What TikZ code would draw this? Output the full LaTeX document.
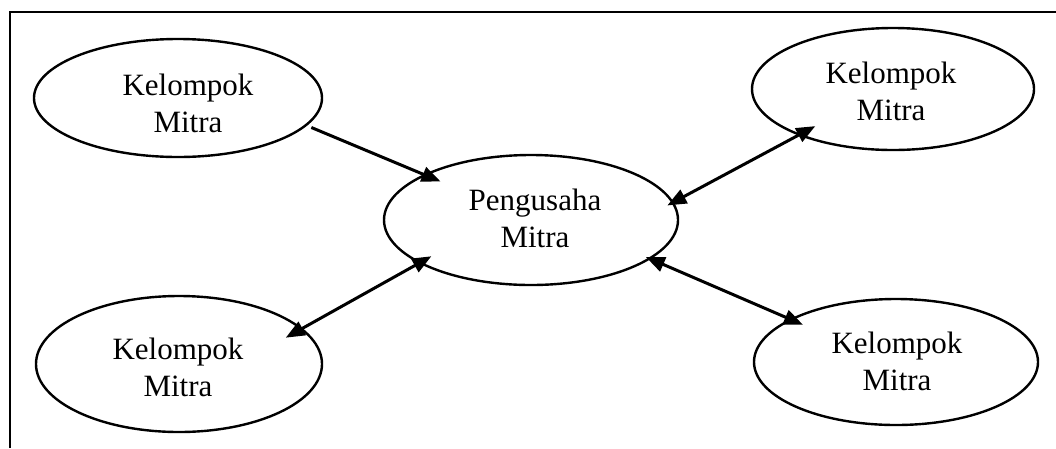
\documentclass[tikz,border=0pt]{standalone}
\usepackage{fontspec}
\setmainfont{Liberation Serif}
\usetikzlibrary{shapes.geometric,arrows.meta}
\begin{document}
\begin{tikzpicture}[x=1pt,y=-1pt,
  party/.style={ellipse,draw,line width=2.4pt,inner sep=0pt,outer sep=0pt},
  caption/.style={align=center,font=\fontsize{31}{37}\selectfont,inner sep=0pt,anchor=base},
  link/.style={line width=3pt,{Triangle[length=19pt,width=15pt]}-{Triangle[length=19pt,width=15pt]}},
  oneway/.style={line width=3pt,-{Triangle[length=19pt,width=15pt]}}]
\useasboundingbox (0,0) rectangle (1056,448);
\fill[white] (0,0) rectangle (1056,448);
% open frame: left and top edges
\draw[line width=2.4pt] (10,448) -- (10,12) -- (1056,12);

% the five parties
\node[party,minimum width=288pt,minimum height=118pt] (e1) at (178,98) {};
\node[party,minimum width=282pt,minimum height=122pt] (e2) at (893,89) {};
\node[party,minimum width=294pt,minimum height=130pt] (c)  at (531,220) {};
\node[party,minimum width=286pt,minimum height=136pt] (e3) at (179,364) {};
\node[party,minimum width=284pt,minimum height=126pt] (e4) at (896,362) {};

% labels (anchored on the baseline of the last line)
\node[caption] (t1) at (188,132) {Kelompok\\Mitra};
\node[caption] (t2) at (891,120) {Kelompok\\Mitra};
\node[caption] (tc) at (535,247) {Pengusaha\\Mitra};
\node[caption] (t3) at (178,396) {Kelompok\\Mitra};
\node[caption] (t4) at (897,390) {Kelompok\\Mitra};

% relations
\draw[oneway,shorten <=6pt,shorten >=-17pt] (e1.-12.8) -- (c.157.9);
\draw[link,shorten <=-6pt,shorten >=-18pt] (c.7.8) -- (e2.206.6);
\draw[link,shorten <=-13pt,shorten >=-18pt] (c.201.6) -- (e3.16.6);
\draw[link,shorten <=-4pt,shorten >=-13pt] (c.-18.9) -- (e4.158.5);
\end{tikzpicture}
\end{document}
